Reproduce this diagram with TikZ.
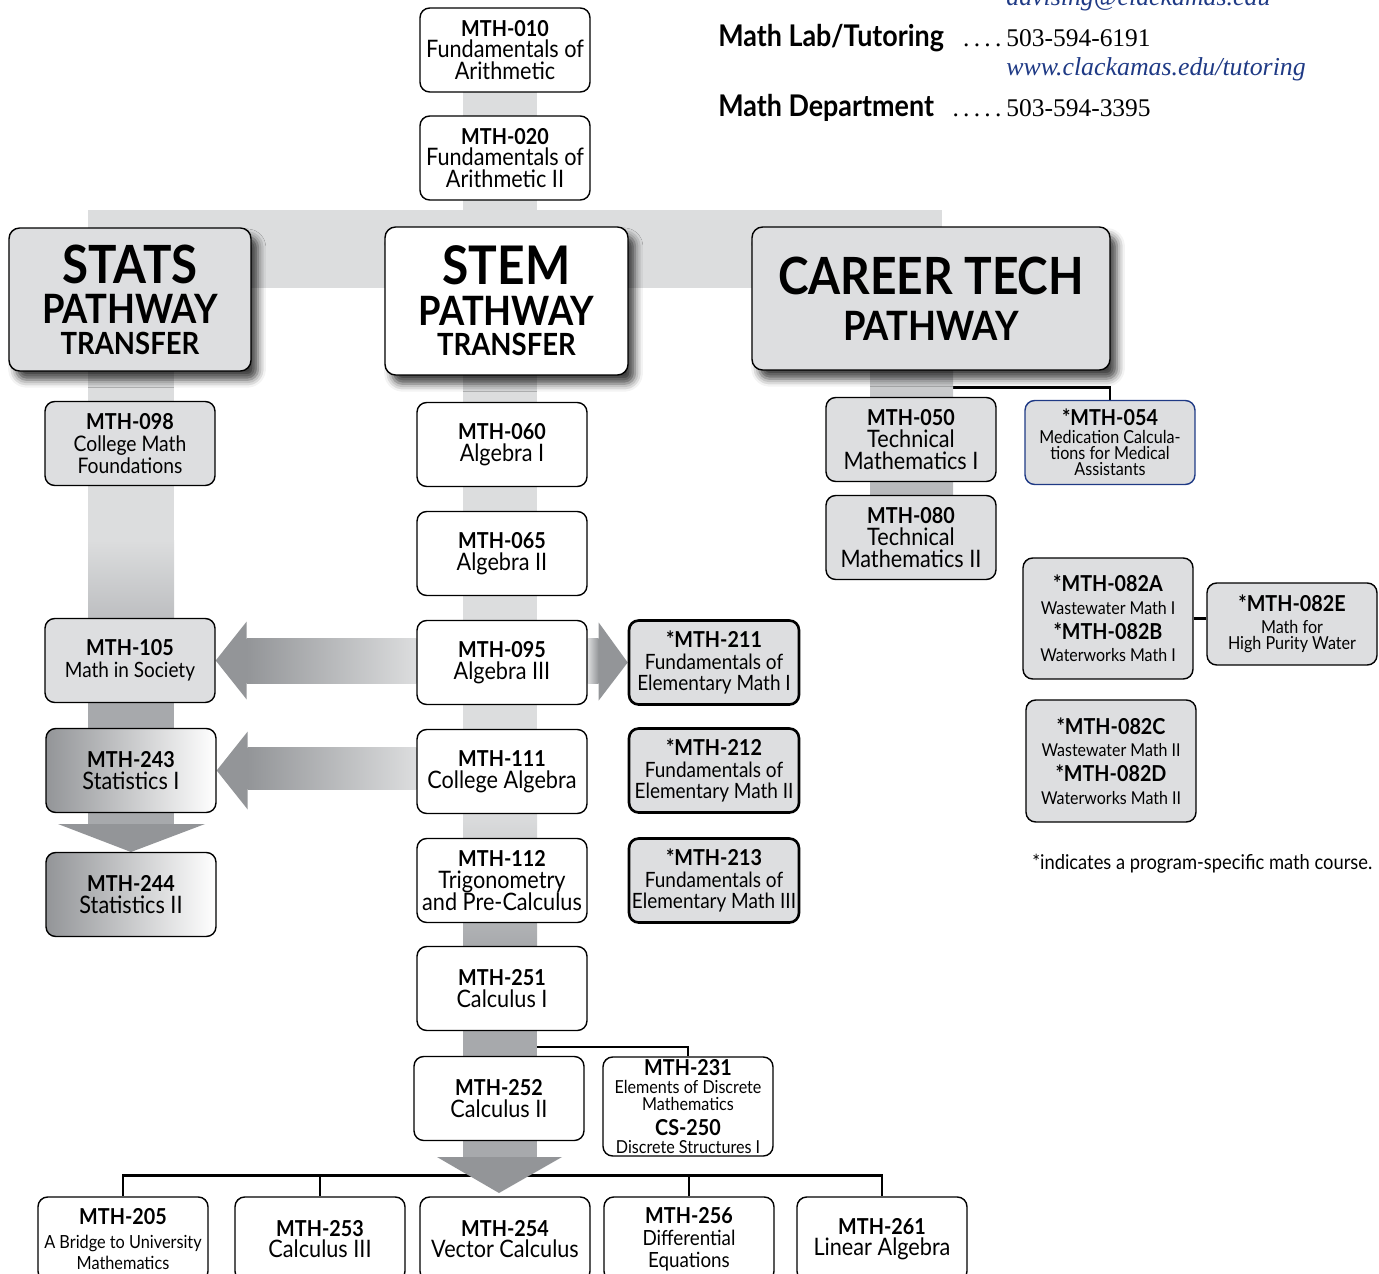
\documentclass[tikz,border=0pt]{standalone}
\usepackage{fontspec}
\setmainfont{Lato}[FakeStretch=0.9]
\newfontfamily\phonefont{Liberation Serif}
\usetikzlibrary{calc,backgrounds,shadows.blur}

\definecolor{bandlight}{HTML}{DCDDDE}
\definecolor{bandmid}{HTML}{A7A9AC}
\definecolor{arrowdark}{HTML}{939598}
\definecolor{boxgray}{HTML}{DDDEE0}
\definecolor{linknavy}{HTML}{1F3A85}

\newcommand{\mth}[1]{{\bfseries\fontsize{12.5}{12.5}\selectfont #1}}
\newcommand{\tightskip}{\lineskiplimit=-4pt\relax}

\begin{document}
\begin{tikzpicture}[x=0.02cm,y=-0.02cm]
        \tikzstyle{course}=[
            rectangle,
            rounded corners=5.5pt,
            draw=black,
            line width=0.8pt,
            fill=white,
            minimum width=3.4cm,
            minimum height=1.68cm,
            inner sep=1pt,
            align=center,
            font=\fontsize{12}{12.3}\selectfont
        ]
        \tikzstyle{bigtext}=[font=\fontsize{13.7}{12.3}\selectfont\tightskip]
        \tikzstyle{smalltext}=[font=\fontsize{10.2}{9.3}\selectfont\tightskip]
        \tikzstyle{graycourse}=[course, fill=boxgray]
        \tikzstyle{progcourse}=[graycourse, line width=1.5pt]
        \tikzstyle{shadecourse}=[course, left color=arrowdark, middle color=white!78!arrowdark, right color=white]
        \tikzstyle{pathway}=[
            rectangle,
            rounded corners=6pt,
            draw=black,
            line width=0.8pt,
            align=center,
            font=\bfseries\fontsize{17}{20}\selectfont,
            blur shadow={shadow xshift=4pt, shadow yshift=-5pt, shadow blur radius=4.5pt, shadow opacity=75}
        ]
        \tikzstyle{link}=[draw=black, line width=1.6pt]
        \tikzstyle{fatshaft}=[left color=arrowdark, right color=bandlight]
        \tikzstyle{contact}=[inner sep=0pt, anchor=base west]

        \useasboundingbox (0,0) rectangle (1379,1274);

        \node[contact, font=\phonefont\itshape\fontsize{14.7}{14.7}\selectfont, text=linknavy] (advise) at (1006,6) {advising@clackamas.edu};
        \node[contact, font=\bfseries\fontsize{17}{17}\selectfont] (lab) at (718,47) {Math Lab/Tutoring};
        \node[contact, font=\phonefont\fontsize{14.5}{14.5}\selectfont] (labnum) at (1006,47) {503-594-6191};
        \node[contact, anchor=base east, font=\phonefont\fontsize{14.5}{14.5}\selectfont] (labdots) at (labnum.base west) {.\,.\,.\,.\,};
        \node[contact, font=\phonefont\itshape\fontsize{14.7}{14.7}\selectfont, text=linknavy] (tutor) at (1006,76) {www.clackamas.edu/tutoring};
        \node[contact, font=\bfseries\fontsize{17}{17}\selectfont] (dept) at (718,116) {Math Department};
        \node[contact, font=\phonefont\fontsize{14.5}{14.5}\selectfont] (deptnum) at (1006,116) {503-594-3395};
        \node[contact, anchor=base east, font=\phonefont\fontsize{14.5}{14.5}\selectfont] (deptdots) at (deptnum.base west) {.\,.\,.\,.\,.\,};

        \node[course, bigtext] (m010) at (505,50) {\mth{MTH-010}\\Fundamentals of\\Arithmetic};
        \node[course, bigtext] (m020) at (505,158) {\mth{MTH-020}\\Fundamentals of\\Arithmetic II};

        \node[pathway, fill=boxgray, minimum width=4.84cm, minimum height=2.86cm] (stats) at (130,299.5) {\fontsize{30}{30}\selectfont STATS\\[3pt]\fontsize{23}{23}\selectfont PATHWAY\\[-2.5pt]\fontsize{17.4}{17.4}\selectfont TRANSFER};
        \node[pathway, fill=white, minimum width=4.86cm, minimum height=2.96cm] (stem) at (506.5,301) {\fontsize{30.3}{30.3}\selectfont STEM\\[3pt]\fontsize{23}{23}\selectfont PATHWAY\\[-2.5pt]\fontsize{17.4}{17.4}\selectfont TRANSFER};
        \node[pathway, fill=boxgray, minimum width=7.16cm, minimum height=2.86cm] (career) at (931,298.5) {\fontsize{29.2}{29.2}\selectfont CAREER TECH\\[6pt]\fontsize{23}{23}\selectfont PATHWAY};

        \node[graycourse, font=\fontsize{12.2}{12.3}\selectfont] (m098) at (130,443.5) {\mth{MTH-098}\\College Math\\Foundations};
        \node[graycourse] (m105) at (130,660.5) {\mth{MTH-105}\\Math in Society};
        \node[shadecourse, bigtext] (m243) at (131,770.5) {\mth{MTH-243}\\Statistics I};
        \node[shadecourse, bigtext] (m244) at (131,894.5) {\mth{MTH-244}\\Statistics II};

        \node[course, bigtext] (m060) at (502,444.5) {\mth{MTH-060}\\Algebra I};
        \node[course, bigtext] (m065) at (502,553.5) {\mth{MTH-065}\\Algebra II};
        \node[course, bigtext] (m095) at (502,662.5) {\mth{MTH-095}\\Algebra III};
        \node[course, bigtext] (m111) at (502,771.5) {\mth{MTH-111}\\College Algebra};
        \node[course, bigtext] (m112) at (502,880.5) {\mth{MTH-112}\\Trigonometry\\and Pre-Calculus};
        \node[course, bigtext] (m251) at (502,988.5) {\mth{MTH-251}\\Calculus I};
        \node[course, bigtext] (m252) at (499,1098.5) {\mth{MTH-252}\\Calculus II};
        \node[course, smalltext, minimum height=1.98cm] (m231) at (688,1106.5) {\mth{MTH-231}\\[1pt]Elements of Discrete\\Mathematics\\[5pt]\mth{CS-250}\\[1pt]Discrete Structures I};

        \node[progcourse] (m211) at (714,662.5) {\mth{*MTH-211}\\Fundamentals of\\Elementary Math I};
        \node[progcourse] (m212) at (714,770.5) {\mth{*MTH-212}\\Fundamentals of\\Elementary Math II};
        \node[progcourse] (m213) at (714,880.5) {\mth{*MTH-213}\\Fundamentals of\\Elementary Math III};

        \node[graycourse, bigtext] (m050) at (911,439.5) {\mth{MTH-050}\\Technical\\Mathematics I};
        \node[graycourse, bigtext] (m080) at (911,537.5) {\mth{MTH-080}\\Technical\\Mathematics II};
        \node[graycourse, smalltext, draw=linknavy] (m054) at (1110,442.5) {\mth{*MTH-054}\\[0.5pt]Medication Calcula-\\tions for Medical\\Assistants};
        \node[graycourse, minimum height=2.42cm, font=\fontsize{10.1}{13}\selectfont] (m082ab) at (1108,618.5) {\mth{*MTH-082A}\\Wastewater Math I\\[1pt]\mth{*MTH-082B}\\Waterworks Math I};
        \node[graycourse, smalltext, minimum height=1.64cm] (m082e) at (1292,624) {\mth{*MTH-082E}\\[3pt]Math for\\High Purity Water};
        \node[graycourse, minimum height=2.44cm, font=\fontsize{10.1}{13}\selectfont] (m082cd) at (1111,761) {\mth{*MTH-082C}\\Wastewater Math II\\[1pt]\mth{*MTH-082D}\\Waterworks Math II};
        \node[anchor=west, inner sep=0pt, font=\fontsize{11.6}{12}\selectfont] (note) at (1032,864) {*indicates a program-specific math course.};

        \node[course, font=\fontsize{10.3}{12}\selectfont] (m205) at (123,1239) {\mth{MTH-205}\\[1.5pt]A Bridge to University\\Mathematics};
        \node[course, bigtext] (m253) at (320,1239) {\mth{MTH-253}\\Calculus III};
        \node[course, bigtext] (m254) at (505,1239) {\mth{MTH-254}\\Vector Calculus};
        \node[course, font=\fontsize{11.9}{12.5}\selectfont] (m256) at (689,1239) {\mth{MTH-256}\\Differential\\Equations};
        \node[course, bigtext] (m261) at (882,1239) {\mth{MTH-261}\\Linear Algebra};

        \begin{scope}[on background layer]
            \draw[link] (m205.north) -- ++(0,-21) -| (m261.north);
            \draw[link] (m253.north) -- ++(0,-21);
            \draw[link] (m256.north) -- ++(0,-21);
            \coordinate (j231) at (537,1047);
            \draw[link] (j231) -| (m231.north);
            \draw[link] (career.south -| m050.north) -- ++(0,17) -| (m054.north);
            \draw[link] (m082ab.east) -- (m082ab.east -| m082e.west);

            \fill[bandlight] (463,92) rectangle (537,210);
            \fill[bandlight] (88,210) rectangle (942,288);
            \fill[bandlight] (88,288) rectangle (174,540);
            \shade[top color=bandlight, bottom color=bandmid!60!bandlight] (88,540) rectangle (174,620);
            \fill[bandmid] (88,700) rectangle (174,825);
            \fill[arrowdark] (58,824) -- (205,824) -- (131,852) -- cycle;

            \fill[bandlight] (463,288) rectangle (537,813);
            \shade[top color=bandlight, bottom color=bandmid] (463,813) rectangle (537,947);
            \fill[bandmid] (463,947) rectangle (537,1158);
            \fill[arrowdark] (437,1157) -- (562,1157) -- (499,1193) -- cycle;

            \shade[top color=bandlight, bottom color=bandmid!70!bandlight] (870,288) rectangle (953,496);

            \shade[fatshaft] ($(m105.east)+(31,-22)$) rectangle ($(m095.west)+(0,21)$);
            \fill[arrowdark] (m105.east) -- ++(31,-39) -- ++(0,78) -- cycle;
            \shade[fatshaft] ($(m243.east)+(31,-23)$) rectangle ($(m111.west)+(0,18)$);
            \fill[arrowdark] (m243.east) -- ++(31,-39) -- ++(0,78) -- cycle;
            \shade[left color=bandlight, right color=arrowdark] ($(m095.east)+(0,-24)$) rectangle ($(m211.west)+(-29,21)$);
            \fill[arrowdark] (m211.west) -- ++(-29,-40) -- ++(0,78) -- cycle;
        \end{scope}
    \end{tikzpicture}
\end{document}
